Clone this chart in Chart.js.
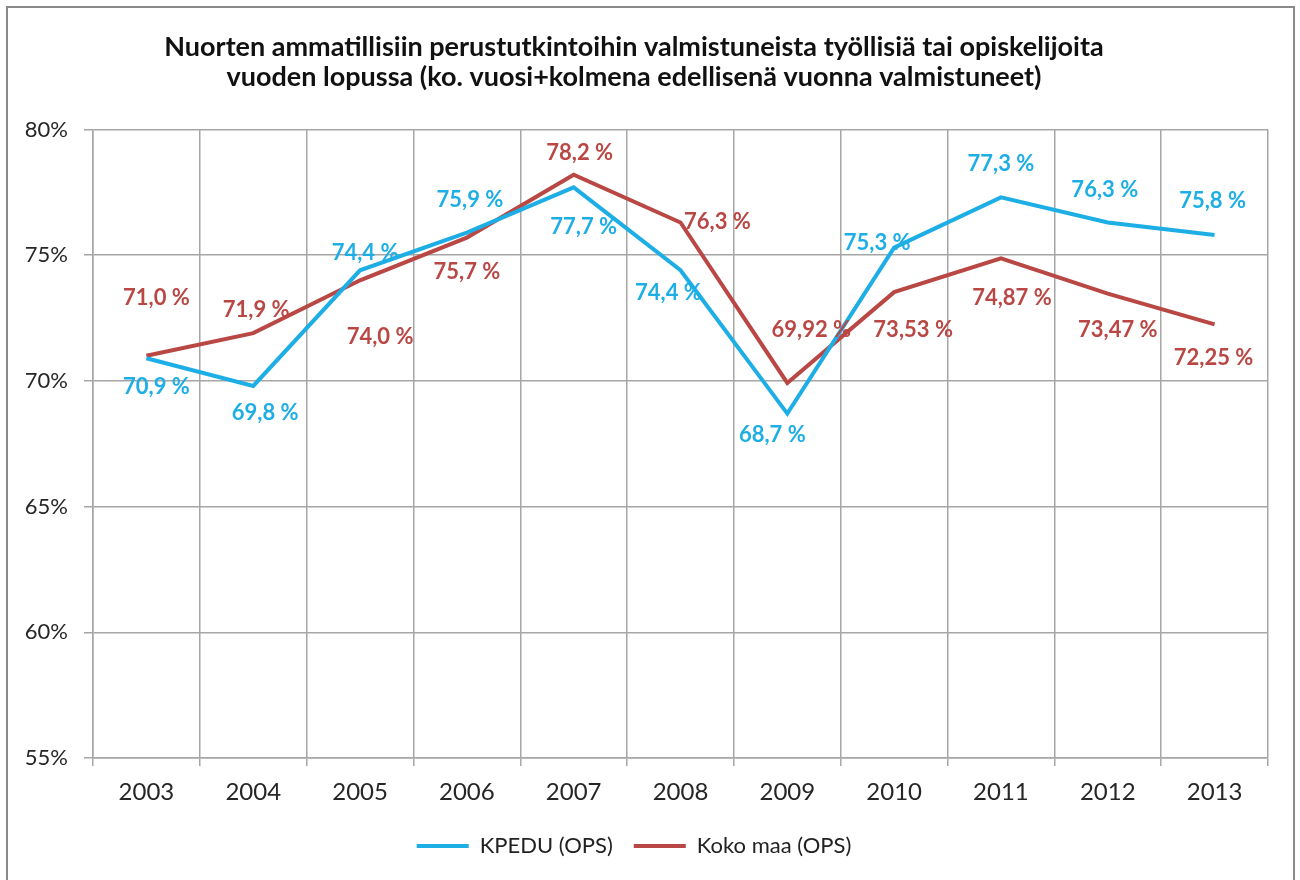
<!DOCTYPE html>
<html lang="fi">
<head>
  <meta charset="UTF-8">
  <title>Nuorten ammatillisiin perustutkintoihin valmistuneista työllisiä tai opiskelijoita</title>
  <script src="https://cdn.jsdelivr.net/npm/chart.js"></script>
  <style>
    html, body {
      margin: 0;
      padding: 0;
      background: #fff;
      overflow: hidden;
    }
    #frame {
      position: absolute;
      left: 6px;
      top: 6px;
      width: 1285px;
      height: 900px;
      border: 2px solid #8a8a8a;
      pointer-events: none;
    }
    #chart {
      position: absolute;
      left: 0;
      top: 0;
    }
  </style>
</head>
<body>
  <canvas id="chart" width="1300" height="880"></canvas>
  <div id="frame"></div>

  <script>
    // data
    const years = ['2003', '2004', '2005', '2006', '2007', '2008', '2009', '2010', '2011', '2012', '2013'];
    const kpedu = [70.9, 69.8, 74.4, 75.9, 77.7, 74.4, 68.7, 75.3, 77.3, 76.3, 75.8];
    const kokoMaa = [71.0, 71.9, 74.0, 75.7, 78.2, 76.3, 69.92, 73.53, 74.87, 73.47, 72.25];
    const kpeduDecimals = [1, 1, 1, 1, 1, 1, 1, 1, 1, 1, 1];
    const kokoMaaDecimals = [1, 1, 1, 1, 1, 1, 2, 2, 2, 2, 2];
    const yTicks = [55, 60, 65, 70, 75, 80];

    const titleLines = [
      'Nuorten ammatillisiin perustutkintoihin valmistuneista työllisiä tai opiskelijoita',
      'vuoden lopussa (ko. vuosi+kolmena edellisenä vuonna valmistuneet)'
    ];

    const BLUE = '#1eaee6';
    const RED = '#b94744';
    const FONT = 'Lato, "Open Sans", sans-serif';

    // label offsets from the point (px), like moved Excel labels
    const kpeduOffsets = [[10, 29], [12, 27], [5, -17], [3, -33], [10, 40], [-12, 23], [-15, 21], [-17, -5], [0, -33], [-3, -33], [-2, -34]];
    const kokoOffsets = [[10, -58], [3, -23], [20, 57], [0, 34], [6, -22], [37, -1], [24, -53], [19, 38], [11, 39], [10, 36], [-1, 34]];

    function fmt(v, d) {
      return v.toFixed(d).replace('.', ',') + ' %';
    }

    const valueLabels = {
      id: 'valueLabels',
      afterDatasetsDraw(chart) {
        const ctx = chart.ctx;
        ctx.save();
        ctx.font = 'bold 22px ' + FONT;
        ctx.textAlign = 'center';
        ctx.textBaseline = 'middle';
        chart.data.datasets.forEach((ds, di) => {
          const meta = chart.getDatasetMeta(di);
          const offs = di === 0 ? kpeduOffsets : kokoOffsets;
          const decs = di === 0 ? kpeduDecimals : kokoMaaDecimals;
          ctx.fillStyle = ds.borderColor;
          meta.data.forEach((pt, i) => {
            ctx.fillText(fmt(ds.data[i], decs[i]), pt.x + offs[i][0], pt.y + offs[i][1]);
          });
        });
        ctx.restore();
      }
    };

    new Chart(document.getElementById('chart'), {
      type: 'line',
      data: {
        labels: years,
        datasets: [
          {
            label: 'KPEDU (OPS)',
            data: kpedu,
            borderColor: BLUE,
            backgroundColor: BLUE,
            borderWidth: 4,
            pointRadius: 0,
            tension: 0
          },
          {
            label: 'Koko maa (OPS)',
            data: kokoMaa,
            borderColor: RED,
            backgroundColor: RED,
            borderWidth: 4,
            pointRadius: 0,
            tension: 0
          }
        ]
      },
      options: {
        responsive: false,
        animation: false,
        layout: {
          padding: { left: 0, right: 32, top: 0, bottom: 13 }
        },
        plugins: {
          title: {
            display: true,
            text: titleLines,
            color: '#111',
            font: { family: FONT, size: 27, weight: 'bold', lineHeight: 1.12 },
            padding: { top: 32, bottom: 37 }
          },
          legend: {
            position: 'bottom',
            labels: {
              usePointStyle: true,
              pointStyle: 'line',
              pointStyleWidth: 52,
              padding: 21,
              color: '#222',
              font: { family: FONT, size: 22 }
            }
          },
          tooltip: { enabled: false }
        },
        scales: {
          x: {
            offset: true,
            grid: {
              offset: true,
              color: '#a6a6a6',
              lineWidth: 1.5,
              tickLength: 8
            },
            border: { color: '#a6a6a6', width: 1.5 },
            ticks: {
              color: '#262626',
              padding: 12,
              font: { family: FONT, size: 24 }
            },
            afterFit(scale) { scale.height = 56; }
          },
          y: {
            min: 55,
            max: 80,
            afterBuildTicks(scale) {
              scale.ticks = yTicks.map(v => ({ value: v }));
            },
            grid: {
              color: '#a6a6a6',
              lineWidth: 1.5,
              tickLength: 9
            },
            border: { color: '#a6a6a6', width: 1.5 },
            ticks: {
              color: '#262626',
              padding: 16,
              font: { family: FONT, size: 22 },
              callback: v => v + '%'
            },
            afterFit(scale) { scale.width = 93; }
          }
        }
      },
      plugins: [valueLabels]
    });
  </script>
</body>
</html>
